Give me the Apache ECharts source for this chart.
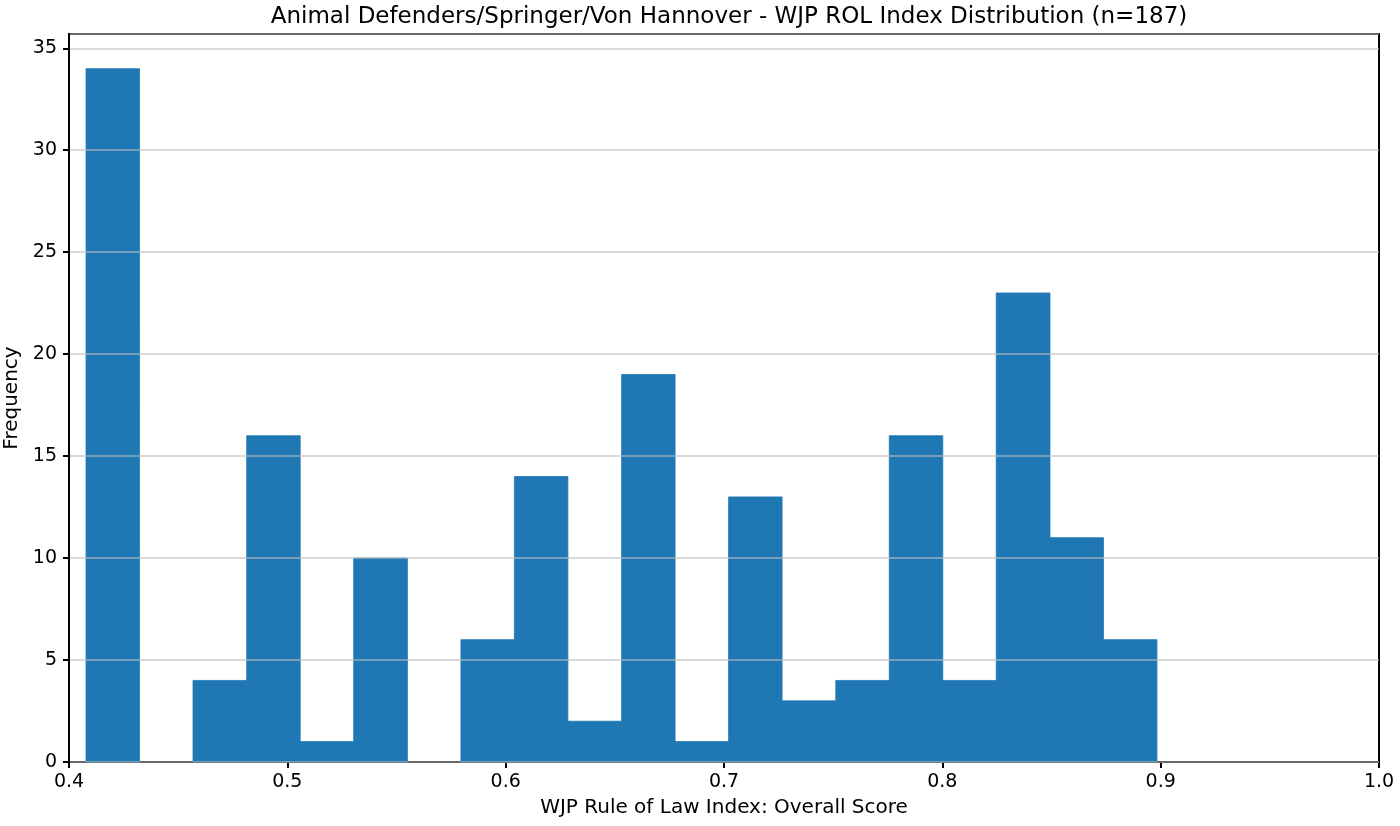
<!DOCTYPE html>
<html>
<head>
<meta charset="UTF-8">
<title>WJP ROL Index Distribution</title>
<script src="https://cdn.jsdelivr.net/npm/echarts@6/dist/echarts.min.js"></script>
<style>
	html, body { margin: 0; padding: 0; background: #fff; }
	#chart { width: 1400px; height: 826px; }
</style>
</head>
<body>
<div id="chart"></div>
<script>
// bin edges (20 bins)
var binEdges = [0.4078, 0.4323, 0.4568, 0.4814, 0.5059, 0.5304, 0.5550, 0.5795, 0.6040, 0.6285,
	0.6531, 0.6776, 0.7021, 0.7266, 0.7512, 0.7757, 0.8002, 0.8247, 0.8493, 0.8738, 0.8983];
var counts = [34, 0, 4, 16, 1, 10, 0, 6, 14, 2, 19, 1, 13, 3, 4, 16, 4, 23, 11, 6];
var xTicks = [0.4, 0.5, 0.6, 0.7, 0.8, 0.9, 1.0];
var yTicks = [0, 5, 10, 15, 20, 25, 30, 35];

var bins = counts.map(function (c, i) {
	return [binEdges[i], binEdges[i + 1], c];
});

var font = 'DejaVu Sans';
var chart = echarts.init(document.getElementById('chart'));

chart.setOption({
	animation: false,
	backgroundColor: '#fff',
	title: {
		text: 'Animal Defenders/Springer/Von Hannover - WJP ROL Index Distribution (n=187)',
		left: 724, top: 1, textAlign: 'center',
		textStyle: { fontFamily: font, fontSize: 23, fontWeight: 'normal', color: '#000' }
	},
	grid: {
		left: 69, right: 21, top: 34, bottom: 64,
		outerBoundsMode: 'none',
		containLabel: false,
		show: true, borderColor: '#000', borderWidth: 2, backgroundColor: 'transparent'
	},
	xAxis: {
		type: 'value', min: 0.4, max: 1.0, interval: 0.1,
		name: 'WJP Rule of Law Index: Overall Score',
		nameLocation: 'middle', nameGap: 36,
		nameTextStyle: { fontFamily: font, fontSize: 20, color: '#000' },
		axisLine: { show: true, lineStyle: { color: '#000', width: 2 } },
		axisTick: { show: true, length: 6, lineStyle: { color: '#000', width: 2 } },
		axisLabel: {
			fontFamily: font, fontSize: 19, color: '#000', margin: 11,
			formatter: function (v) {
				return xTicks.indexOf(Math.round(v * 10) / 10) >= 0 ? v.toFixed(1) : '';
			}
		},
		splitLine: { show: false }
	},
	yAxis: {
		type: 'value', min: 0, max: 35.7, interval: 5,
		z: 5,
		name: 'Frequency',
		nameLocation: 'middle', nameGap: 45, nameRotate: 90,
		nameTextStyle: { fontFamily: font, fontSize: 20, color: '#000' },
		axisLine: { show: true, lineStyle: { color: '#000', width: 2 } },
		axisTick: { show: true, length: 6, lineStyle: { color: '#000', width: 2 } },
		axisLabel: {
			fontFamily: font, fontSize: 19, color: '#000', margin: 12,
			showMaxLabel: false,
			formatter: function (v) {
				return yTicks.indexOf(v) >= 0 ? String(v) : '';
			}
		},
		splitLine: { show: true, lineStyle: { color: 'rgba(190,190,190,0.75)', width: 1.5 } }
	},
	series: [{
		type: 'custom',
		z: 2,
		renderItem: function (params, api) {
			if (!api.value(2)) return null;
			var p0 = api.coord([api.value(0), 0]);
			var p1 = api.coord([api.value(1), api.value(2)]);
			return {
				type: 'rect',
				shape: { x: p0[0], y: p1[1], width: p1[0] - p0[0], height: p0[1] - p1[1] },
				style: { fill: '#1f77b4', stroke: '#1f77b4', lineWidth: 0.8 }
			};
		},
		encode: { x: [0, 1], y: 2 },
		data: bins
	}]
});
</script>
</body>
</html>
